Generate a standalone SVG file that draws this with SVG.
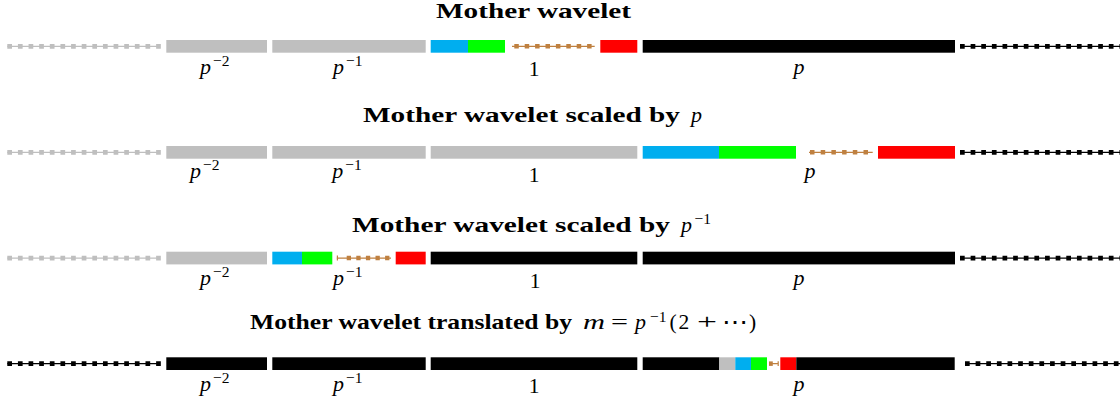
<svg xmlns="http://www.w3.org/2000/svg" width="1120" height="409" viewBox="0 0 1120 409">
<style>
.t{font-family:"Liberation Serif",serif;font-weight:bold;font-size:21.5px;fill:#000}
.mi{font-family:"Liberation Serif",serif;font-style:italic;font-size:22px;fill:#000}
.rm{font-family:"Liberation Serif",serif;font-size:21.5px;fill:#000}
.sup{font-family:"Liberation Serif",serif;font-size:15.5px;fill:#000}
.g{fill:#bfbfbf}.k{fill:#000}.b{fill:#00aeef}.gr{fill:#00ff00}.r{fill:#ff0000}
.thin{stroke-width:1.2;fill:none}
.dots{stroke-width:4.7;stroke-dasharray:4.7 5.93;fill:none}
.bthin{stroke:#bf8040;stroke-width:1.2;fill:none}
.bdots{stroke:#bf8040;stroke-width:4.5;fill:none}
.sg{stroke:#bfbfbf}.sk{stroke:#000}
</style>

<g id="row1">
  <text class="t" x="436" y="18.3" textLength="195" lengthAdjust="spacingAndGlyphs">Mother wavelet</text>
  <g id="row1-bars">
    <path class="thin sg" d="M7.3 46.35H160"/><path class="dots sg" d="M7.3 46.35H161"/>
    <rect class="g" x="166.3" y="40" width="100.7" height="12.7"/>
    <rect class="g" x="272.3" y="40" width="153.4" height="12.7"/>
    <rect class="b" x="430.7" y="40" width="37.3" height="12.7"/>
    <rect class="gr" x="468" y="40" width="37" height="12.7"/>
    <path class="bthin" d="M512 46.35H594.7"/><path class="bdots" stroke-dasharray="4.5 5.9" d="M514.3 46.35H592"/>
    <rect class="r" x="600.3" y="40" width="37" height="12.7"/>
    <rect class="k" x="642.7" y="40" width="312.3" height="12.7"/>
    <path class="thin sk" d="M960 46.35H1120"/><path class="dots sk" d="M960 46.35H1120"/>
  </g>
  <text class="mi" x="200" y="74">p</text><text class="sup" x="213" y="66">−2</text>
  <text class="mi" x="333" y="74">p</text><text class="sup" x="346" y="66">−1</text>
  <text class="rm" x="534" y="76" text-anchor="middle">1</text>
  <text class="mi" x="799" y="74" text-anchor="middle">p</text>
</g>

<g id="row2">
  <text class="t" x="363" y="121.7" textLength="317" lengthAdjust="spacingAndGlyphs">Mother wavelet scaled by</text>
  <text class="mi" x="691" y="121.7">p</text>
  <g id="row2-bars">
    <path class="thin sg" d="M7.3 152.35H160"/><path class="dots sg" d="M7.3 152.35H161"/>
    <rect class="g" x="166.3" y="146" width="100.7" height="12.7"/>
    <rect class="g" x="272.3" y="146" width="153.4" height="12.7"/>
    <rect class="g" x="430.7" y="146" width="206.6" height="12.7"/>
    <rect class="b" x="642.7" y="146" width="76.3" height="12.7"/>
    <rect class="gr" x="719" y="146" width="77" height="12.7"/>
    <path class="bthin" d="M809 152.35H872.7"/><path class="bdots" stroke-dasharray="4.5 6.2" d="M810 152.35H868"/>
    <rect class="r" x="878" y="146" width="77" height="12.7"/>
    <path class="thin sk" d="M960 152.35H1120"/><path class="dots sk" d="M960 152.35H1120"/>
  </g>
  <text class="mi" x="190" y="178">p</text><text class="sup" x="203" y="170">−2</text>
  <text class="mi" x="332.3" y="178">p</text><text class="sup" x="345.3" y="170">−1</text>
  <text class="rm" x="534" y="182" text-anchor="middle">1</text>
  <text class="mi" x="810" y="178" text-anchor="middle">p</text>
</g>

<g id="row3">
  <text class="t" x="352" y="231.7" textLength="318" lengthAdjust="spacingAndGlyphs">Mother wavelet scaled by</text>
  <text class="mi" x="681" y="231.7">p</text><text class="sup" x="694.5" y="224">−1</text>
  <g id="row3-bars">
    <path class="thin sg" d="M7.3 258.05H160"/><path class="dots sg" d="M7.3 258.05H161"/>
    <rect class="g" x="166.3" y="251.7" width="100.7" height="12.7"/>
    <rect class="b" x="272.3" y="251.7" width="29.7" height="12.7"/>
    <rect class="gr" x="302" y="251.7" width="30.3" height="12.7"/>
    <path class="bthin" d="M336.7 258.05H391M337.4 255.5V260.6"/><path class="bdots" stroke-dasharray="4.3 5.3" d="M346.7 258.05H390"/>
    <rect class="r" x="395.7" y="251.7" width="30" height="12.7"/>
    <rect class="k" x="430.7" y="251.7" width="206.6" height="12.7"/>
    <rect class="k" x="642.7" y="251.7" width="312.3" height="12.7"/>
    <path class="thin sk" d="M960 258.05H1120"/><path class="dots sk" d="M960 258.05H1120"/>
  </g>
  <text class="mi" x="200" y="285">p</text><text class="sup" x="213" y="277">−2</text>
  <text class="mi" x="333" y="285">p</text><text class="sup" x="346" y="277">−1</text>
  <text class="rm" x="535" y="288" text-anchor="middle">1</text>
  <text class="mi" x="799" y="285" text-anchor="middle">p</text>
</g>

<g id="row4">
  <text class="t" x="250" y="329.3" textLength="322" lengthAdjust="spacingAndGlyphs">Mother wavelet translated by</text>
  <text class="mi" x="583" y="329.3" textLength="22" lengthAdjust="spacingAndGlyphs">m</text>
  <text class="rm" x="611" y="329.3" textLength="17" lengthAdjust="spacingAndGlyphs">=</text>
  <text class="mi" x="635" y="329.3">p</text><text class="sup" x="650" y="321.5">−1</text>
  <text class="rm" x="669.5" y="329.3">(</text>
  <text class="rm" x="678.5" y="329.3">2</text>
  <text class="rm" x="697" y="329.3" textLength="20" lengthAdjust="spacingAndGlyphs">+</text>
  <text class="rm" x="722" y="329.3" textLength="26" lengthAdjust="spacingAndGlyphs">⋯</text>
  <text class="rm" x="749" y="329.3">)</text>
  <g id="row4-bars">
    <path class="thin sk" d="M7.3 363.65H160"/><path class="dots sk" d="M7.3 363.65H161"/>
    <rect class="k" x="166.3" y="357.3" width="100.7" height="12.7"/>
    <rect class="k" x="272.3" y="357.3" width="153.4" height="12.7"/>
    <rect class="k" x="430.7" y="357.3" width="206.6" height="12.7"/>
    <rect class="k" x="642.7" y="357.3" width="76.6" height="12.7"/>
    <rect class="g" x="719.3" y="357.3" width="16" height="12.7"/>
    <rect class="b" x="735.3" y="357.3" width="15.7" height="12.7"/>
    <rect class="gr" x="751" y="357.3" width="16" height="12.7"/>
    <path class="bthin" d="M769 363.65H778.7M778.2 361.2V366.1"/><path class="bdots" d="M769 363.65H772.8"/>
    <rect class="r" x="780.3" y="357.3" width="16" height="12.7"/>
    <rect class="k" x="796.3" y="357.3" width="158.4" height="12.7"/>
    <path class="thin sk" d="M965 363.65H1120"/><path class="dots sk" d="M965 363.65H1120"/>
  </g>
  <text class="mi" x="200" y="391">p</text><text class="sup" x="213" y="383">−2</text>
  <text class="mi" x="333" y="391">p</text><text class="sup" x="346" y="383">−1</text>
  <text class="rm" x="534" y="393" text-anchor="middle">1</text>
  <text class="mi" x="799" y="391" text-anchor="middle">p</text>
</g>
</svg>
